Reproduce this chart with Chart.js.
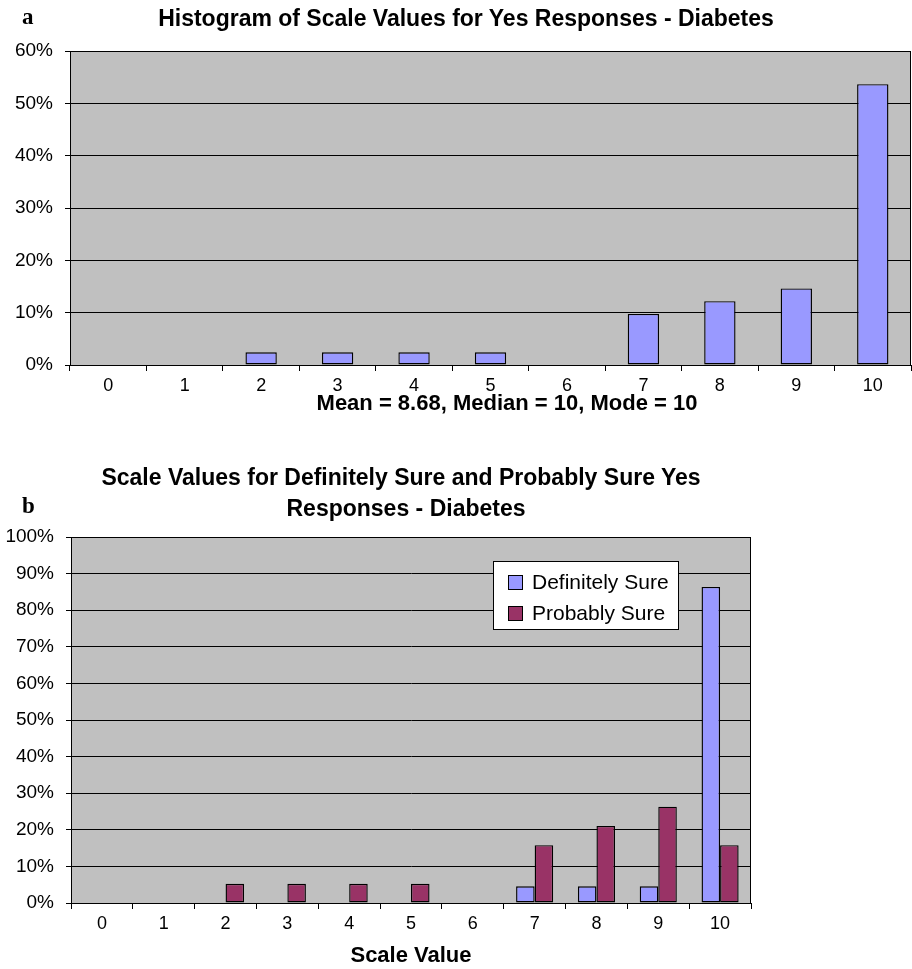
<!DOCTYPE html>
<html>
<head>
<meta charset="utf-8">
<script src="https://cdn.jsdelivr.net/npm/chart.js@4/dist/chart.umd.min.js"></script>
<style>
  body { margin: 0; background: #fff; width: 912px; height: 969px; position: relative; overflow: hidden;
         font-family: "Liberation Sans", Arial, sans-serif; color: #000; }
  canvas { position: absolute; left: 0; }
  #chartA { top: 0; }
  #chartB { top: 440px; }
  .letter { position: absolute; font-family: "Liberation Serif", "Times New Roman", serif; font-weight: bold;
            font-size: 23px; line-height: 24px; }
  .title { position: absolute; font-weight: bold; font-size: 23px; line-height: 24px; white-space: nowrap;
           transform: translateX(-50%); }
  .axis-note { font-size: 22px; }
</style>
</head>
<body>
<canvas id="chartA" width="912" height="440"></canvas>
<canvas id="chartB" width="912" height="529"></canvas>

<div class="letter" style="left:22px; top:5px;">a</div>
<div class="title" style="left:466px; top:6px;">Histogram of Scale Values for Yes Responses - Diabetes</div>
<div class="title axis-note" style="left:507px; top:391px;">Mean = 8.68, Median = 10, Mode = 10</div>

<div class="letter" style="left:22px; top:494px;">b</div>
<div class="title" style="left:401px; top:465px;">Scale Values for Definitely Sure and Probably Sure Yes</div>
<div class="title" style="left:406px; top:496px;">Responses - Diabetes</div>

<script>
// Scale values 0-10 shared by both histograms
const scaleValues = ['0', '1', '2', '3', '4', '5', '6', '7', '8', '9', '10'];

// Panel a: share of all Yes responses at each scale value (%)
const yesShare = [0, 0, 2.44, 2.44, 2.44, 2.44, 0, 9.76, 12.2, 14.63, 53.66];

// Panel b: share within each certainty group (%)
const definitelySure = [0, 0, 0, 0, 0, 0, 0, 4.55, 4.55, 4.55, 86.36];
const probablySure   = [0, 0, 5.26, 5.26, 5.26, 5.26, 0, 15.79, 21.05, 26.32, 15.79];

const seriesNames = ['Definitely Sure', 'Probably Sure'];
const BLUE = '#9999FF';
const PLUM = '#993366';

const FONT = "'Liberation Sans', Arial, sans-serif";

// Grey plot area with a black frame, as in classic spreadsheet charts
const plotFrame = {
  id: 'plotFrame',
  beforeDraw(chart) {
    const { ctx, chartArea: a } = chart;
    ctx.save();
    ctx.fillStyle = '#C0C0C0';
    ctx.fillRect(a.left, a.top, a.right - a.left, a.bottom - a.top);
    ctx.restore();
  },
  afterDraw(chart) {
    const { ctx, chartArea: a } = chart;
    ctx.save();
    ctx.strokeStyle = '#000';
    ctx.lineWidth = 1;
    ctx.beginPath();
    ctx.moveTo(Math.round(a.left) + 0.5, Math.round(a.top) + 0.5);
    ctx.lineTo(Math.round(a.right) - 0.5, Math.round(a.top) + 0.5);
    ctx.lineTo(Math.round(a.right) - 0.5, Math.round(a.bottom) + 0.5);
    ctx.stroke();
    ctx.restore();
  }
};

// Boxed legend drawn inside the plot area
const boxLegend = {
  id: 'boxLegend',
  afterDraw(chart, args, o) {
    if (!o || !o.display) return;
    const ctx = chart.ctx;
    ctx.save();
    ctx.fillStyle = '#fff';
    ctx.fillRect(o.x, o.y, o.width, o.height);
    ctx.strokeStyle = '#000';
    ctx.lineWidth = 1;
    ctx.strokeRect(o.x + 0.5, o.y + 0.5, o.width - 1, o.height - 1);
    ctx.font = o.fontSize + 'px ' + FONT;
    ctx.textBaseline = 'middle';
    chart.data.datasets.forEach((ds, i) => {
      const cy = o.y + o.firstRow + i * o.rowGap;
      ctx.fillStyle = ds.backgroundColor;
      ctx.fillRect(o.x + o.swatchX, cy - o.swatch / 2, o.swatch, o.swatch);
      ctx.strokeStyle = '#000';
      ctx.strokeRect(o.x + o.swatchX + 0.5, cy - o.swatch / 2 + 0.5, o.swatch - 1, o.swatch - 1);
      ctx.fillStyle = '#000';
      ctx.fillText(ds.label, o.x + o.textX, cy + 1);
    });
    ctx.restore();
  }
};

Chart.register(plotFrame, boxLegend);

function axes(yMax, yWidth, xHeight) {
  return {
    x: {
      offset: true,
      grid: { offset: true, drawOnChartArea: false, drawTicks: true, tickLength: 6, color: '#000', lineWidth: 1 },
      border: { display: true, color: '#000', width: 1 },
      ticks: { color: '#000', font: { family: FONT, size: 18 }, padding: 4, maxRotation: 0, autoSkip: false },
      afterFit(scale) { scale.height = xHeight; }
    },
    y: {
      min: 0, max: yMax,
      grid: { color: '#000', lineWidth: 1, drawTicks: true, tickLength: 5 },
      border: { display: true, color: '#000', width: 1 },
      ticks: { stepSize: 10, color: '#000', font: { family: FONT, size: 19 }, padding: 12,
               callback: v => v + '%' },
      afterFit(scale) { scale.width = yWidth; }
    }
  };
}

// Panel a
new Chart(document.getElementById('chartA'), {
  type: 'bar',
  data: {
    labels: scaleValues,
    datasets: [{
      label: 'Yes',
      data: yesShare,
      backgroundColor: BLUE,
      borderColor: '#000',
      borderWidth: 1.4,
      borderSkipped: false,
      barPercentage: 0.41,
      categoryPercentage: 1
    }]
  },
  options: {
    responsive: false,
    animation: false,
    devicePixelRatio: 1,
    layout: { padding: { top: 51, right: 1, left: 0, bottom: 0 } },
    plugins: { legend: { display: false }, title: { display: false }, tooltip: { enabled: false },
               boxLegend: { display: false } },
    scales: axes(60, 70, 75)
  }
});

// Panel b
new Chart(document.getElementById('chartB'), {
  type: 'bar',
  data: {
    labels: scaleValues,
    datasets: [
      { label: seriesNames[0], data: definitelySure, backgroundColor: BLUE, borderColor: '#000',
        borderWidth: 1.4, borderSkipped: false, barPercentage: 1, categoryPercentage: 0.6 },
      { label: seriesNames[1], data: probablySure, backgroundColor: PLUM, borderColor: '#000',
        borderWidth: 1.4, borderSkipped: false, barPercentage: 1, categoryPercentage: 0.6 }
    ]
  },
  options: {
    responsive: false,
    animation: false,
    devicePixelRatio: 1,
    layout: { padding: { top: 97, right: 161, left: 0, bottom: 0 } },
    plugins: {
      legend: { display: false }, title: { display: false }, tooltip: { enabled: false },
      boxLegend: { display: true, x: 493, y: 121, width: 186, height: 69,
                   firstRow: 21.5, rowGap: 31, swatch: 15, swatchX: 15, textX: 39, fontSize: 21 }
    },
    scales: (() => {
      const s = axes(100, 71, 66);
      s.x.title = { display: true, text: 'Scale Value', color: '#000',
                    font: { family: FONT, size: 22, weight: 'bold' }, padding: { top: 1, bottom: 0 } };
      return s;
    })()
  }
});
</script>
</body>
</html>
